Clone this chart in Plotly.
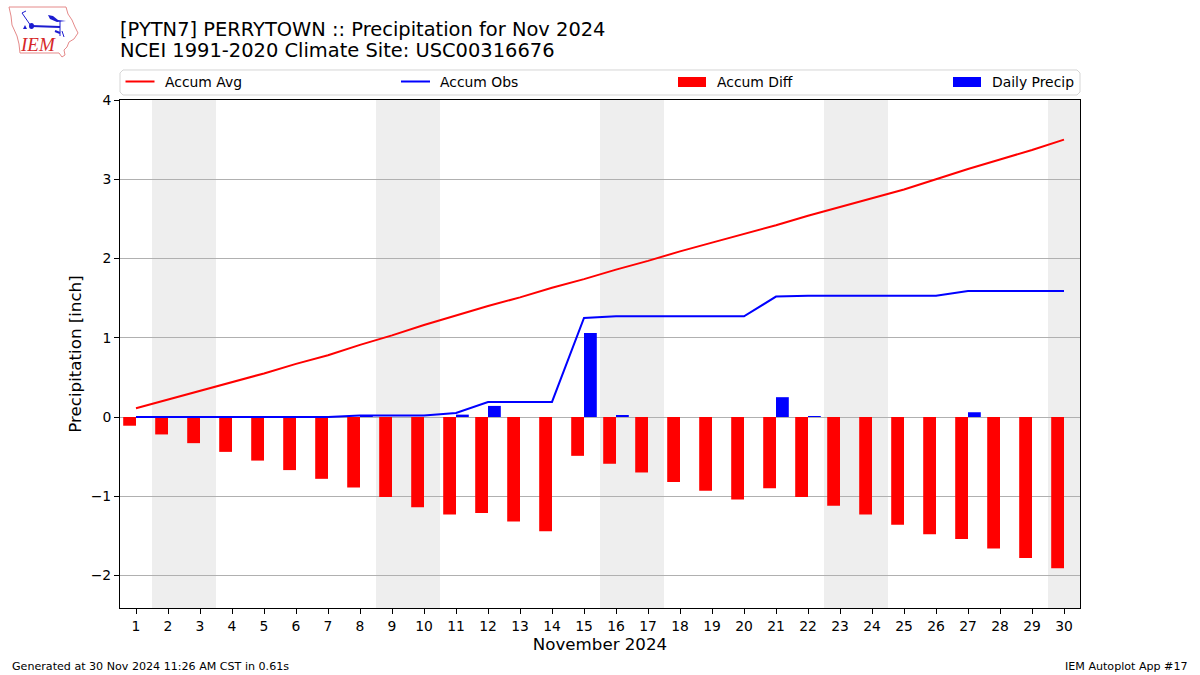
import plotly.graph_objects as go

days = list(range(1, 31))
tick_labels = [str(d) for d in days]
accum_avg = [0.11, 0.22, 0.33, 0.44, 0.55, 0.67, 0.78, 0.91, 1.03, 1.16, 1.28, 1.40, 1.51, 1.63, 1.74,
             1.86, 1.97, 2.09, 2.20, 2.31, 2.42, 2.54, 2.65, 2.76, 2.87, 3.00, 3.13, 3.25, 3.37, 3.50]
accum_obs = [0.0, 0.0, 0.0, 0.0, 0.0, 0.0, 0.0, 0.02, 0.02, 0.02, 0.05, 0.19, 0.19, 0.19, 1.25,
             1.27, 1.27, 1.27, 1.27, 1.27, 1.52, 1.53, 1.53, 1.53, 1.53, 1.53, 1.59, 1.59, 1.59, 1.59]
accum_diff = [-0.11, -0.22, -0.33, -0.44, -0.55, -0.67, -0.78, -0.89, -1.01, -1.14, -1.23, -1.21, -1.32, -1.44, -0.49,
              -0.59, -0.70, -0.82, -0.93, -1.04, -0.90, -1.01, -1.12, -1.23, -1.36, -1.48, -1.54, -1.66, -1.78, -1.91]
daily_precip = [0, 0, 0, 0, 0, 0, 0, 0.02, 0, 0, 0.03, 0.14, 0, 0, 1.06,
                0.02, 0, 0, 0, 0, 0.25, 0.01, 0, 0, 0, 0, 0.06, 0, 0, 0]
weekend_spans = [(1.5, 3.5), (8.5, 10.5), (15.5, 17.5), (22.5, 24.5), (29.5, 30.5)]
title_lines = ["[PYTN7] PERRYTOWN :: Precipitation for Nov 2024", "NCEI 1991-2020 Climate Site: USC00316676"]
legend_names = ["Accum Avg", "Accum Obs", "Accum Diff", "Daily Precip"]
legend_colors = ["#ff0000", "#0000ff", "#ff0000", "#0000ff"]
legend_x = [126, 401.5, 678.5, 953.5]

W, H = 1200, 675
L, R, T, B = 120, 1080, 100, 608
FONT = "DejaVu Sans"


def px(x):
    return (x - L) / (R - L)


def py(y):
    return (B - y) / (B - T)


def path(points, close=True):
    s = "M" + " L".join(f"{px(x):.5f},{py(y):.5f}" for x, y in points)
    return s + (" Z" if close else "")


def paper_shape(points, close=True, line=None, width=1, fill=None):
    d = dict(type="path", xref="paper", yref="paper", path=path(points, close),
             line=dict(color=line, width=width) if line else dict(width=0))
    if fill:
        d["fillcolor"] = fill
    return d


def text_at(text, x, y, size, anchor="left", family=FONT, color="black"):
    return dict(text=text, x=px(x), y=py(y), xref="paper", yref="paper", xanchor=anchor, yanchor="middle",
                showarrow=False, font=dict(family=family, size=size, color=color), borderpad=0, borderwidth=0)


fig = go.Figure()
fig.add_trace(go.Bar(x=days, y=accum_diff, width=0.4, offset=-0.4, marker=dict(color="#ff0000", line=dict(width=0)),
                     name="Accum Diff", showlegend=False))
fig.add_trace(go.Bar(x=days, y=daily_precip, width=0.4, offset=0, marker=dict(color="#0000ff", line=dict(width=0)),
                     name="Daily Precip", showlegend=False))
fig.add_trace(go.Scatter(x=days, y=accum_avg, mode="lines", line=dict(color="#ff0000", width=2), name="Accum Avg", showlegend=False))
fig.add_trace(go.Scatter(x=days, y=accum_obs, mode="lines", line=dict(color="#0000ff", width=2), name="Accum Obs", showlegend=False))

shapes = []
for a, b in weekend_spans:
    shapes.append(dict(type="rect", xref="x", yref="paper", x0=a, x1=b, y0=0, y1=1, layer="below",
                       fillcolor="#eeeeee", line=dict(width=0)))

# legend frame
r = 3
frame = f"M{px(120+r):.5f},{py(70):.5f} L{px(1080-r):.5f},{py(70):.5f} L{px(1080):.5f},{py(70+r):.5f} " \
        f"L{px(1080):.5f},{py(95-r):.5f} L{px(1080-r):.5f},{py(95):.5f} L{px(120+r):.5f},{py(95):.5f} " \
        f"L{px(120):.5f},{py(95-r):.5f} L{px(120):.5f},{py(70+r):.5f} Z"
shapes.append(dict(type="path", xref="paper", yref="paper", path=frame, line=dict(color="#d5d5d5", width=1), fillcolor="white"))

annotations = []
for i, (name, color, x0) in enumerate(zip(legend_names, legend_colors, legend_x)):
    if i < 2:
        shapes.append(paper_shape([(x0 - 0.5, 81.5), (x0 + 28.5, 81.5)], close=False, line=color, width=2))
    else:
        shapes.append(paper_shape([(x0 - 0.5, 77), (x0 + 27.5, 77), (x0 + 27.5, 87), (x0 - 0.5, 87)], fill=color))
    annotations.append(text_at(name, x0 + 38.5, 81.5, 13.9))

annotations.append(text_at(title_lines[1], 120, 51, 19.44))
annotations.append(text_at("Generated at 30 Nov 2024 11:26 AM CST in 0.61s", 12, 666.5, 11.1))
annotations.append(text_at("IEM Autoplot App #17", 1188, 666.5, 11.1, anchor="right"))

# logo
PINK, BLUE = "#e58a8a", "#1c1cd0"
iowa = [(9, 7), (66, 7), (68, 14), (72, 20), (75, 27), (78, 33), (74, 39), (69, 42), (67, 47), (64, 50), (65, 55), (62, 57),
        (59, 53), (20, 53), (19, 44), (17, 36), (12, 25), (11, 16)]
shapes.append(paper_shape(iowa, line=PINK, width=1))
shapes.append(paper_shape([(31, 26), (60, 27)], close=False, line=BLUE, width=2))
shapes.append(dict(type="circle", xref="paper", yref="paper", x0=px(29), x1=px(34), y0=py(29), y1=py(23),
                   fillcolor=BLUE, line=dict(width=0)))
shapes.append(paper_shape([(22, 13), (31, 26)], close=False, line=BLUE, width=1))
shapes.append(paper_shape([(22, 13), (26, 11)], close=False, line=BLUE, width=1))
shapes.append(paper_shape([(48, 15), (53, 16), (58, 20), (66, 21), (57, 22), (50, 19)], fill=BLUE))
shapes.append(paper_shape([(60, 21), (60, 36)], close=False, line=BLUE, width=1))
shapes.append(paper_shape([(55, 31), (60, 33)], close=False, line=BLUE, width=2))
shapes.append(paper_shape([(62, 31), (64, 37)], close=False, line=BLUE, width=1))
shapes.append(paper_shape([(23, 29), (25, 25), (27, 29)], fill=BLUE))
annotations.append(text_at("<i>IEM</i>", 20, 45, 19, family="Liberation Serif", color="#d62728"))

fig.update_layout(
    width=W, height=H, autosize=False,
    margin=dict(l=L, r=W - R, t=T, b=H - B, pad=0),
    plot_bgcolor="white", paper_bgcolor="white",
    barmode="overlay",
    font=dict(family=FONT, size=13.9, color="black"),
    title=dict(text=title_lines[0], x=L / W, xanchor="left", xref="container",
               y=1 - 29 / H, yanchor="middle", font=dict(family=FONT, size=19.44, color="black")),
    shapes=shapes, annotations=annotations, showlegend=False,
    xaxis=dict(range=[0.5, 30.5], tickmode="array", tickvals=days, ticktext=tick_labels, ticks="outside", ticklen=5, tickwidth=1,
               tickcolor="black", showline=True, linecolor="black", linewidth=1, mirror=True, showgrid=False, zeroline=False,
               title=dict(text="November 2024", font=dict(family=FONT, size=16.67), standoff=5), tickfont=dict(family=FONT, size=13.9)),
    yaxis=dict(range=[-2.41, 4], tickmode="array", tickvals=[-2, -1, 0, 1, 2, 3, 4], ticktext=["\u22122", "\u22121", "0", "1", "2", "3", "4"],
               ticks="outside", ticklen=5, tickwidth=1, tickcolor="black", showline=True, linecolor="black", linewidth=1, mirror=True,
               showgrid=True, gridcolor="#b0b0b0", gridwidth=1, zeroline=False,
               title=dict(text="Precipitation [inch]", font=dict(family=FONT, size=16.67), standoff=4), tickfont=dict(family=FONT, size=13.9)),
)
fig.write_html("out.html", config={"displayModeBar": False},
               post_script="document.body.style.margin='0';document.documentElement.style.overflow='hidden';")
